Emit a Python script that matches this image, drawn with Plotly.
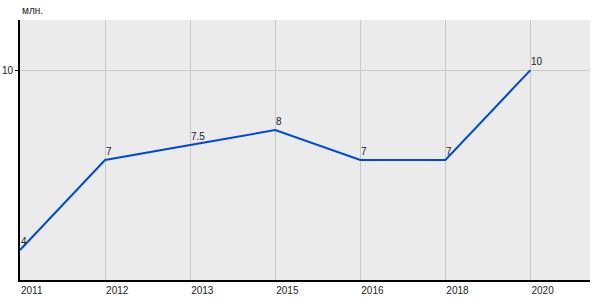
import plotly.graph_objects as go

years = ["2011", "2012", "2013", "2015", "2016", "2018", "2020"]
values = [4, 7, 7.5, 8, 7, 7, 10]
labels = ["4", "7", "7.5", "8", "7", "7", "10"]
y_ticks = [10]
unit = "млн."

xs = list(range(len(years)))
fig = go.Figure(go.Scatter(
    x=xs, y=values, mode="lines",
    line=dict(color="#0047e0", width=2), cliponaxis=False,
))
annotations = [dict(x=x, y=v, text=t, xref="x", yref="y", xanchor="left", yanchor="bottom",
                    yshift=1, xshift=-1, showarrow=False,
                    font=dict(family="Liberation Sans, Arial", size=10, color="#222"))
               for x, v, t in zip(xs, values, labels)]
annotations.append(dict(text=unit, xref="paper", yref="paper", x=0, y=1, xanchor="left",
                        yanchor="bottom", yshift=2, showarrow=False,
                        font=dict(size=10, color="#222")))
fig.update_layout(
    width=600, height=300, margin=dict(l=20, r=10, t=20, b=20),
    paper_bgcolor="white", plot_bgcolor="#ebebeb", showlegend=False,
    font=dict(family="Liberation Sans, Arial", size=10, color="#222"),
    xaxis=dict(range=[0, 6.7], tickvals=xs, ticktext=years,
               showline=True, linecolor="black", linewidth=2, automargin=False,
               showgrid=True, gridcolor="#c8c8c8", gridwidth=1, zeroline=False,
               ticks="", ticklabelposition="outside right", ticklabelstandoff=0),
    yaxis=dict(range=[3, 11.67], tickvals=y_ticks, showline=True, linecolor="black",
               linewidth=2, showgrid=True, gridcolor="#c8c8c8", zeroline=False,
               automargin=False, ticks="outside", ticklen=3, tickcolor="black"),
    annotations=annotations,
)
fig.write_html("out.html")
